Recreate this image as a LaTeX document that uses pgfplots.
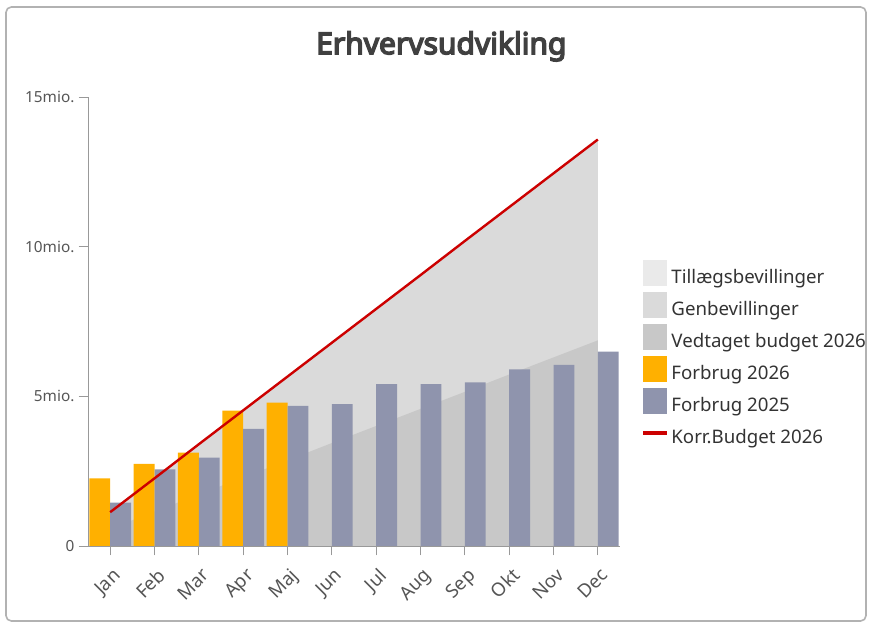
\documentclass[border=0pt]{standalone}
\usepackage{fontspec}
\setmainfont{Noto Sans}
\newfontfamily\titlefont{Noto Sans}[FakeBold=5]
\usepackage{pgfplots}
\pgfplotsset{compat=1.18}
\definecolor{cOrange}{HTML}{FFB000}
\definecolor{cBlue}{HTML}{8F94AD}
\definecolor{cVed}{HTML}{C8C8C8}
\definecolor{cGen}{HTML}{DADADA}
\definecolor{cTil}{HTML}{EAEAEA}
\definecolor{cRed}{HTML}{CC0000}
\definecolor{cText}{HTML}{555555}
\pgfplotsset{
 sqlegend/.style={legend image code/.code={\fill[##1, draw=none] (0pt,-6.5pt) rectangle (18pt,13pt);}},
 linelegend/.style={legend image code/.code={\path[draw=none, fill=none] (0pt,-6.5pt) rectangle (18pt,13pt); \draw[##1] (0pt,3.5pt) -- (18pt,3.5pt);}},
}
\begin{document}
\begin{tikzpicture}
\draw[gray!60, line width=1.2pt, rounded corners=4pt] (4.5pt,3pt) rectangle (649.5pt,463.5pt);
\node[font=\titlefont\fontsize{22.5}{26}\selectfont, text=black!75] at (331pt,434pt) {Erhvervsudvikling};
\begin{axis}[
 at={(66pt,59.25pt)}, anchor=south west, scale only axis,
 width=399pt, height=336.75pt,
 xmin=-0.5, xmax=11.5, ymin=0, ymax=15,
 axis lines*=left,
 axis line style={gray!80, line width=0.6pt},
 tick align=outside, major tick length=7pt,
 tick style={gray!80, line width=0.6pt},
 xtick={0,1,2,3,4,5,6,7,8,9,10,11},
 xticklabels={Jan,Feb,Mar,Apr,Maj,Jun,Jul,Aug,Sep,Okt,Nov,Dec},
 ytick={0,5,10,15},
 yticklabels={0,5mio.,10mio.,15mio.},
 xticklabel style={rotate=45, anchor=north east, font=\fontsize{14}{16}\selectfont, text=cText, inner sep=0pt, xshift=-5pt, yshift=-7pt},
 yticklabel style={font=\fontsize{11.5}{13}\selectfont, text=cText, inner sep=3pt},
 legend style={at={(1.032,0.429)}, anchor=west, draw=none, fill=none, font=\fontsize{14}{16}\selectfont, text=black!80, row sep=4.5pt, nodes={inner sep=0pt}, /tikz/every odd column/.style={column sep=1.8pt}},
 legend cell align=left,
 clip=false,
]
\addlegendimage{sqlegend, fill=cTil}
\addlegendentry{Tillægsbevillinger}
\addlegendimage{sqlegend, fill=cGen}
\addlegendentry{Genbevillinger}
\addlegendimage{sqlegend, fill=cVed}
\addlegendentry{Vedtaget budget 2026}
\addlegendimage{sqlegend, fill=cOrange}
\addlegendentry{Forbrug 2026}
\addlegendimage{sqlegend, fill=cBlue}
\addlegendentry{Forbrug 2025}
\addlegendimage{linelegend, draw=cRed, line width=2.8pt}
\addlegendentry{Korr.Budget 2026}

% Genbevillinger on top of vedtaget (total = korrigeret budget)
\addplot[forget plot, fill=cGen, draw=none] coordinates {
 (0,1.13) (1,2.26) (2,3.40) (3,4.53) (4,5.66) (5,6.79)
 (6,7.92) (7,9.05) (8,10.19) (9,11.32) (10,12.45) (11,13.58)} \closedcycle;
% Vedtaget budget 2026
\addplot[forget plot, fill=cVed, draw=none] coordinates {
 (0,0.57) (1,1.15) (2,1.72) (3,2.29) (4,2.86) (5,3.44)
 (6,4.01) (7,4.58) (8,5.15) (9,5.73) (10,6.30) (11,6.87)} \closedcycle;
% Forbrug 2026
\addplot[forget plot, ybar, bar width=0.47, bar shift=-0.235, fill=cOrange, draw=none] coordinates {
 (0,2.26) (1,2.74) (2,3.12) (3,4.52) (4,4.79)};
% Forbrug 2025
\addplot[forget plot, ybar, bar width=0.47, bar shift=0.235, fill=cBlue, draw=none] coordinates {
 (0,1.45) (1,2.56) (2,2.95) (3,3.91) (4,4.68) (5,4.74)
 (6,5.41) (7,5.41) (8,5.47) (9,5.90) (10,6.05) (11,6.49)};
% Korr. budget 2026
\addplot[forget plot, cRed, line width=1.8pt] coordinates {
 (0,1.13) (1,2.26) (2,3.40) (3,4.53) (4,5.66) (5,6.79)
 (6,7.92) (7,9.05) (8,10.19) (9,11.32) (10,12.45) (11,13.58)};
\end{axis}
\pgfresetboundingbox
\path[use as bounding box] (0,0) rectangle (651.75pt,468.75pt);
\end{tikzpicture}
\end{document}
